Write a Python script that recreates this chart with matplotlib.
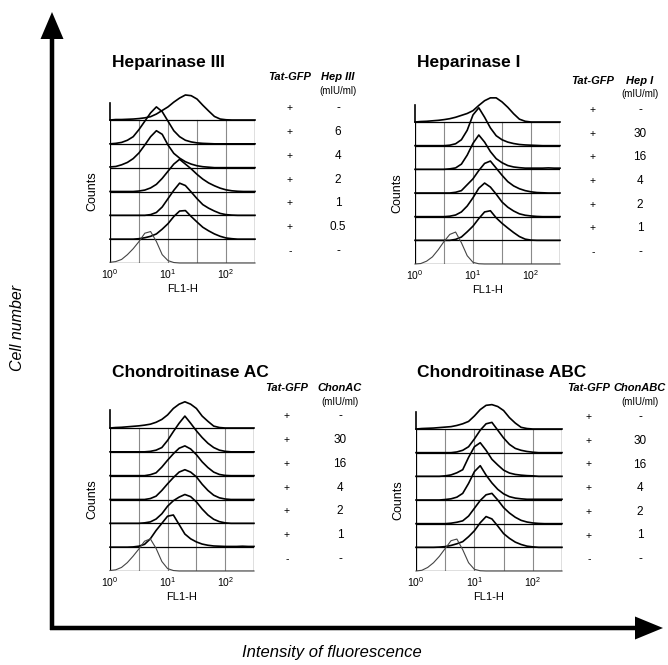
import numpy as np
import matplotlib
matplotlib.use('Agg')
import matplotlib.pyplot as plt
from matplotlib.ticker import NullLocator
from matplotlib.transforms import blended_transform_factory

plt.rcParams['font.family'] = ['Liberation Sans', 'DejaVu Sans']
plt.rcParams['mathtext.fontset'] = 'custom'
plt.rcParams['mathtext.rm'] = 'Liberation Sans'
plt.rcParams['mathtext.it'] = 'Liberation Sans:italic'
plt.rcParams['mathtext.bf'] = 'Liberation Sans:bold'

W, H = 668, 665

# ---- data ----
TITLES = ['Heparinase III', 'Heparinase I', 'Chondroitinase AC', 'Chondroitinase ABC']
CONC_HEADERS = ['Hep III', 'Hep I', 'ChonAC', 'ChonABC']
TAT_GFP = ['+', '+', '+', '+', '+', '+', '-']
CONCS = [
    ['-', '6', '4', '2', '1', '0.5', '-'],
    ['-', '30', '16', '4', '2', '1', '-'],
    ['-', '30', '16', '4', '2', '1', '-'],
    ['-', '30', '16', '4', '2', '1', '-'],
]
TICK_LABELS = [r'$10^0$', r'$10^1$', r'$10^2$']

# log10(FL1-H) bin centres, 0 .. 2.5
LOG_BINS = np.linspace(0, 2.5, 26)

# counts, in units of one row height, top row first
HEP3 = [
    [0, .02, .02, .03, .04, .06, .09, .14, .25, .40, .55, .75, .92, 1.05, 1.02, .88, .62, .38, .15, .04, .01, 0, 0, 0, 0, 0],
    [0, .02, .06, .15, .30, .60, .95, 1.30, 1.55, 1.35, .95, .55, .30, .15, .08, .04, .02, .01, 0, 0, 0, 0, 0, 0, 0, 0],
    [.03, .05, .12, .22, .38, .62, .95, 1.30, 1.55, 1.40, .95, .60, .40, .25, .15, .08, .04, .02, 0, 0, 0, 0, 0, 0, 0, 0],
    [0, 0, 0, 0, 0, .02, .06, .15, .30, .55, .85, 1.15, 1.35, 1.15, .95, .72, .52, .36, .24, .14, .07, .03, .01, 0, 0, 0],
    [0, 0, 0, 0, 0, 0, 0, .03, .12, .35, .70, 1.05, 1.35, 1.25, .98, .70, .45, .30, .18, .08, .03, .01, 0, 0, 0, 0],
    [0, 0, 0, 0, 0, .02, .06, .12, .22, .42, .65, .95, 1.18, 1.20, .95, .72, .50, .35, .22, .12, .05, .02, 0, 0, 0, 0],
    [.03, .06, .15, .35, .60, .90, 1.25, 1.32, .90, .35, .10, .02, 0, 0, 0, 0, 0, 0, 0, 0, 0, 0, 0, 0, 0, 0],
]
HEP1 = [
    [0, .02, .03, .05, .07, .10, .14, .20, .28, .36, .48, .70, .90, 1.02, 1.02, .85, .62, .35, .12, .03, 0, 0, 0, 0, 0, 0],
    [0, 0, 0, 0, 0, 0, .02, .08, .25, .65, 1.30, 1.60, 1.20, .75, .42, .25, .15, .09, .05, .03, .02, .01, 0, 0, 0, 0],
    [0, 0, 0, 0, 0, 0, .02, .06, .22, .60, 1.10, 1.45, 1.15, .75, .45, .28, .16, .10, .07, .05, .05, .05, .05, .06, .05, .05],
    [0, 0, 0, 0, 0, 0, 0, .03, .10, .35, .60, .95, 1.25, 1.35, 1.05, .75, .48, .30, .18, .10, .05, .02, .01, 0, 0, 0],
    [0, 0, 0, 0, 0, 0, .02, .07, .20, .45, .80, 1.20, 1.42, 1.25, .95, .62, .40, .24, .12, .06, .03, .01, 0, 0, 0, 0],
    [0, 0, 0, 0, 0, 0, 0, .04, .14, .36, .60, .92, 1.20, 1.25, .95, .72, .52, .33, .16, .05, .01, 0, 0, 0, 0, 0],
    [0, .02, .12, .30, .60, .95, 1.25, 1.35, .90, .35, .07, .01, 0, 0, 0, 0, 0, 0, 0, 0, 0, 0, 0, 0, 0, 0],
]
CHON_AC = [
    [0, .02, .03, .05, .07, .09, .12, .16, .24, .36, .55, .82, 1.00, 1.10, 1.00, .82, .50, .28, .08, .02, 0, 0, 0, 0, 0, 0],
    [0, 0, 0, 0, 0, 0, 0, .02, .07, .18, .48, .85, 1.20, 1.50, 1.20, .88, .60, .36, .18, .07, .02, 0, 0, 0, 0, 0],
    [0, 0, 0, 0, 0, 0, 0, .04, .12, .36, .65, .92, 1.15, 1.25, 1.12, .88, .58, .34, .15, .05, .01, 0, 0, 0, 0, 0],
    [0, 0, 0, 0, 0, 0, 0, .04, .14, .38, .66, .92, 1.15, 1.25, 1.15, .95, .64, .38, .18, .07, .02, 0, 0, 0, 0, 0],
    [0, 0, 0, 0, 0, 0, .02, .06, .18, .40, .72, .95, 1.10, 1.21, 1.12, .90, .60, .35, .17, .07, .02, 0, 0, 0, 0, 0],
    [0, 0, 0, 0, .01, .04, .12, .35, .70, 1.00, 1.30, 1.35, .95, .55, .35, .22, .13, .08, .05, .04, .03, .03, .03, .04, .03, .03],
    [.02, .05, .15, .35, .62, .92, 1.25, 1.35, .95, .40, .10, .02, 0, 0, 0, 0, 0, 0, 0, 0, 0, 0, 0, 0, 0, 0],
]
CHON_ABC = [
    [0, .02, .03, .04, .06, .08, .10, .15, .22, .32, .55, .82, 1.00, 1.03, .95, .78, .48, .25, .07, .02, 0, 0, 0, 0, 0, 0],
    [0, 0, 0, 0, 0, 0, 0, .03, .10, .25, .58, .95, 1.22, 1.28, .95, .62, .35, .18, .10, .05, .02, 0, 0, 0, 0, 0],
    [0, 0, 0, 0, 0, .02, .06, .15, .28, .80, 1.25, 1.42, 1.10, .72, .48, .26, .14, .08, .05, .03, .02, 0, 0, 0, 0, 0],
    [0, 0, 0, 0, 0, .02, .05, .12, .28, .70, 1.20, 1.45, 1.05, .72, .45, .26, .14, .08, .05, .03, .03, .03, .03, .03, .03, .03],
    [0, 0, 0, 0, 0, 0, .02, .06, .12, .32, .65, .98, 1.22, 1.28, 1.00, .68, .45, .27, .14, .07, .03, .01, 0, 0, 0, 0],
    [0, 0, 0, 0, .01, .03, .08, .15, .24, .45, .70, 1.04, 1.30, 1.20, .90, .58, .38, .22, .12, .05, .02, 0, 0, 0, 0, 0],
    [0, .03, .15, .35, .62, .95, 1.28, 1.35, .90, .35, .07, .01, 0, 0, 0, 0, 0, 0, 0, 0, 0, 0, 0, 0, 0, 0],
]
PANEL_DATA = [HEP3, HEP1, CHON_AC, CHON_ABC]
# first-bin spike of the top (untreated) histogram
SPIKES = [0.7, 0.7, 0.75, 0.72]

# ---- layout (pixels from top-left) ----
PANEL_BOX = [(110, 255, 120, 263), (415, 560, 122, 264), (110, 254, 428, 571), (416, 562, 429, 571)]
TITLE_XY = [(112, 67), (417, 67), (112, 377), (417, 377)]
TABLE_X = [(290, 338), (593, 640), (287, 340), (589, 640)]
HEADER_Y = [(77, 91), (81, 94), (388, 402), (388, 402)]
YTOP = 7.8

fig = plt.figure(figsize=(W / 100, H / 100), dpi=100)

# background layer for the big arrows and axis titles
bg = fig.add_axes([0, 0, 1, 1])
bg.set_xlim(0, W)
bg.set_ylim(H, 0)
bg.axis('off')
bg.arrow(52, 630, 0, -618, width=4.5, head_width=23, head_length=27,
         length_includes_head=True, fc='black', ec='none')
bg.arrow(50, 628, 613, 0, width=4.5, head_width=23, head_length=28,
         length_includes_head=True, fc='black', ec='none')
bg.text(18, 328, 'Cell number', rotation=90, style='italic', fontsize=11.5,
        ha='center', va='center')
bg.text(332, 652, 'Intensity of fluorescence', style='italic', fontsize=12,
        ha='center', va='center')


def draw_panel(k):
    L, R, T, B = PANEL_BOX[k]
    row_h = (B - T) / 6
    top = B - row_h * YTOP
    ax = fig.add_axes([L / W, 1 - B / H, (R - L) / W, (B - top) / H])
    ax.set_xscale('log')
    xmax = 10 ** 2.5
    ax.set_xlim(1, xmax)
    ax.set_ylim(0, YTOP)
    for s in ax.spines.values():
        s.set_visible(False)

    # grid: grey verticals every half decade, black row lines
    for gx in [10 ** 0.5, 10, 10 ** 1.5, 100]:
        ax.plot([gx, gx], [0, 6], color='#8a8a8a', lw=0.8, zorder=1)
    for gy in range(0, 7):
        ax.plot([1, xmax], [gy, gy], color='black', lw=0.9, zorder=1)
    ax.plot([1, 1], [0, 6], color='black', lw=0.9, zorder=1)
    ax.plot([xmax, xmax], [0, 6], color='black', lw=0.9, zorder=1)

    x = 10 ** LOG_BINS
    curves = PANEL_DATA[k]
    for i, vals in enumerate(curves):
        base = 6 - i
        last = i == len(curves) - 1
        ax.plot(x, base + np.array(vals), color='#444444' if last else 'black',
                lw=0.8 if last else 1.2, zorder=3, clip_on=False)
    ax.plot([1, 1], [6, 6 + SPIKES[k]], color='black', lw=1.2, zorder=3, clip_on=False)

    ax.set_xticks([1, 10, 100])
    ax.set_xticklabels(TICK_LABELS, fontsize=7.5)
    ax.xaxis.set_minor_locator(NullLocator())
    ax.tick_params(axis='x', length=0, pad=3)
    ax.set_yticks([])
    ax.set_xlabel('FL1-H', fontsize=8, labelpad=2)
    ax.set_ylabel('Counts', fontsize=9)
    ax.yaxis.set_label_coords(-12 / (R - L), 3 / YTOP)

    tx, ty = TITLE_XY[k]
    fig.text(tx / W, 1 - ty / H, TITLES[k], fontsize=12.5, fontweight='bold',
             ha='left', va='baseline')

    xt, xc = TABLE_X[k]
    yh, yu = HEADER_Y[k]
    fig.text(xt / W, 1 - yh / H, 'Tat-GFP', fontsize=8, fontweight='bold',
             style='italic', ha='center', va='center')
    fig.text(xc / W, 1 - yh / H, CONC_HEADERS[k], fontsize=8, fontweight='bold',
             style='italic', ha='center', va='center')
    fig.text(xc / W, 1 - yu / H, '(mIU/ml)', fontsize=7, ha='center', va='center')

    trans = blended_transform_factory(fig.transFigure, ax.transData)
    for i in range(7):
        yy = 6 - i + 0.5
        ax.text(xt / W, yy, TAT_GFP[i], transform=trans, fontsize=7.5,
                ha='center', va='center')
        ax.text(xc / W, yy, CONCS[k][i], transform=trans, fontsize=8.5,
                ha='center', va='center')


for k in range(4):
    draw_panel(k)

fig.savefig('out.png', dpi=100)
